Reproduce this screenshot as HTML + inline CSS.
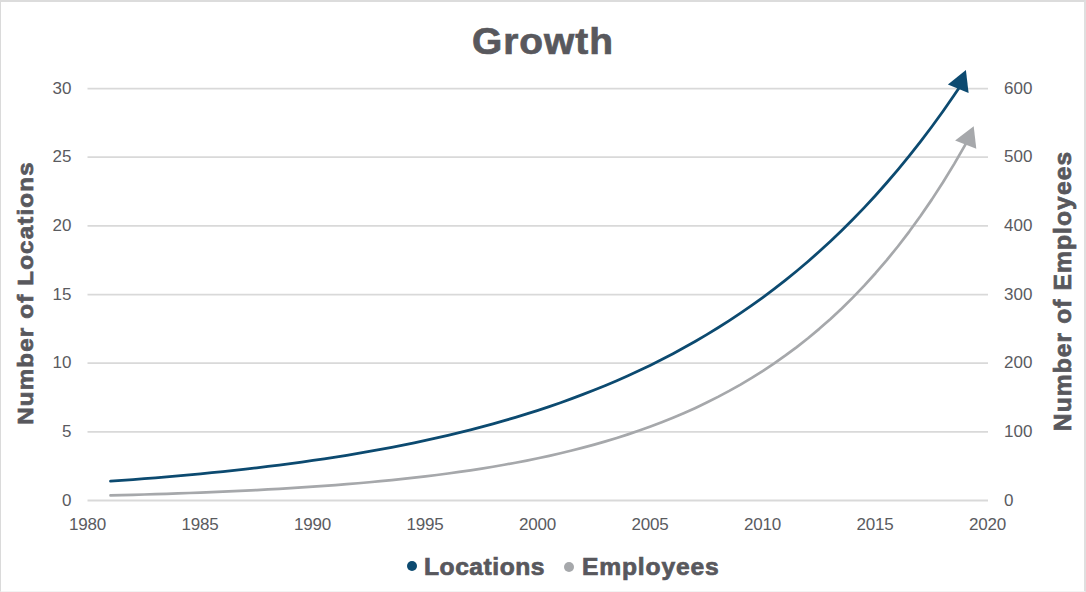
<!DOCTYPE html>
<html><head><meta charset="utf-8"><title>Growth</title>
<style>
html,body{margin:0;padding:0;background:#fff;}
body{width:1086px;height:592px;position:relative;overflow:hidden;font-family:"Liberation Sans",sans-serif;}
#frame{position:absolute;left:0;top:0;width:1086px;height:592px;box-sizing:border-box;border-style:solid;border-color:#dcdcdc #dfdfdf #f3f3f3 #dadada;border-width:2px 2px 1px 1px;}
svg{position:absolute;left:0;top:0;}
.tk{position:absolute;font-size:17px;line-height:20px;color:#5a5b5f;white-space:nowrap;}
.yl{left:20px;width:51.5px;text-align:right;}
.yr{left:1004px;text-align:left;}
.xl{top:515px;width:60px;text-align:center;letter-spacing:-0.2px;}
.b{position:absolute;font-weight:bold;color:#58585d;white-space:nowrap;-webkit-text-stroke:0.7px #58585d;}
#title{left:471.5px;top:21.6px;font-size:36px;line-height:40px;letter-spacing:0.9px;transform-origin:0 50%;transform:scaleX(1.08);}
#ayl{left:25.5px;top:293.2px;width:0;height:0;}
#ayl span{position:absolute;display:block;width:400px;left:-200px;top:-14px;height:28px;line-height:28px;text-align:center;transform:rotate(-90deg) scaleX(1.07);font-size:22.5px;letter-spacing:1.12px;}
#ayr{left:1062.5px;top:290.7px;width:0;height:0;}
#ayr span{position:absolute;display:block;width:400px;left:-200px;top:-14px;height:28px;line-height:28px;text-align:center;transform:rotate(-90deg) scaleX(1.07);font-size:23px;letter-spacing:1.01px;}
.lg{font-size:23px;line-height:28px;top:552.5px;letter-spacing:1.2px;}
.dot{position:absolute;width:10px;height:10px;border-radius:50%;}
</style></head>
<body>
<div id="frame"></div>
<svg width="1086" height="592" viewBox="0 0 1086 592">
<g stroke="#d9d9d9" stroke-width="1.8" fill="none">
<line x1="87.5" x2="988" y1="88.6" y2="88.6"/>
<line x1="87.5" x2="988" y1="157.2" y2="157.2"/>
<line x1="87.5" x2="988" y1="225.9" y2="225.9"/>
<line x1="87.5" x2="988" y1="294.6" y2="294.6"/>
<line x1="87.5" x2="988" y1="363.2" y2="363.2"/>
<line x1="87.5" x2="988" y1="431.9" y2="431.9"/>
<line x1="87.5" x2="988" y1="500.5" y2="500.5"/>
</g>
<path d="M110.50,495.41 L121.75,495.12 L133.00,494.82 L144.25,494.49 L155.50,494.15 L166.75,493.79 L178.00,493.41 L189.25,493.01 L200.50,492.58 L211.75,492.13 L223.00,491.65 L234.25,491.15 L245.50,490.61 L256.75,490.05 L268.00,489.45 L279.25,488.82 L290.50,488.15 L301.75,487.44 L313.00,486.69 L324.25,485.90 L335.50,485.06 L346.75,484.17 L358.00,483.24 L369.25,482.25 L380.50,481.20 L391.75,480.09 L403.00,478.92 L414.25,477.67 L425.50,476.36 L436.75,474.97 L448.00,473.51 L459.25,471.95 L470.50,470.31 L481.75,468.57 L493.00,466.73 L504.25,464.79 L515.50,462.73 L526.75,460.56 L538.00,458.25 L549.25,455.82 L560.50,453.25 L571.75,450.52 L583.00,447.64 L594.25,444.59 L605.50,441.37 L616.75,437.96 L628.00,434.36 L639.25,430.54 L650.50,426.51 L661.75,422.24 L673.00,417.72 L684.25,412.95 L695.50,407.90 L706.75,402.55 L718.00,396.90 L729.25,390.93 L740.50,384.60 L751.75,377.92 L763.00,370.84 L774.25,363.36 L785.50,355.44 L796.75,347.07 L808.00,338.22 L819.25,328.85 L830.50,318.94 L841.75,308.46 L853.00,297.37 L864.25,285.65 L875.50,273.24 L886.75,260.12 L898.00,246.25 L909.25,231.57 L920.50,216.04 L931.75,199.62 L943.00,182.25 L954.25,163.87 L965.50,144.43 L967.30,141.22" fill="none" stroke="#a6a8ab" stroke-width="2.7" stroke-linecap="round" stroke-linejoin="round"/>
<polygon points="973.7,126.2 955.1,140.6 976.3,148.7" fill="#a6a8ab"/>
<path d="M110.50,481.18 L121.75,480.38 L133.00,479.55 L144.25,478.69 L155.50,477.79 L166.75,476.85 L178.00,475.87 L189.25,474.85 L200.50,473.79 L211.75,472.69 L223.00,471.54 L234.25,470.34 L245.50,469.10 L256.75,467.80 L268.00,466.44 L279.25,465.04 L290.50,463.57 L301.75,462.04 L313.00,460.45 L324.25,458.79 L335.50,457.07 L346.75,455.27 L358.00,453.40 L369.25,451.45 L380.50,449.41 L391.75,447.30 L403.00,445.10 L414.25,442.80 L425.50,440.41 L436.75,437.92 L448.00,435.33 L459.25,432.63 L470.50,429.82 L481.75,426.89 L493.00,423.84 L504.25,420.67 L515.50,417.36 L526.75,413.91 L538.00,410.32 L549.25,406.59 L560.50,402.70 L571.75,398.64 L583.00,394.42 L594.25,390.02 L605.50,385.44 L616.75,380.67 L628.00,375.71 L639.25,370.53 L650.50,365.15 L661.75,359.54 L673.00,353.69 L684.25,347.60 L695.50,341.27 L706.75,334.66 L718.00,327.79 L729.25,320.63 L740.50,313.17 L751.75,305.40 L763.00,297.31 L774.25,288.88 L785.50,280.11 L796.75,270.97 L808.00,261.45 L819.25,251.54 L830.50,241.21 L841.75,230.46 L853.00,219.26 L864.25,207.60 L875.50,195.45 L886.75,182.80 L898.00,169.62 L909.25,155.90 L920.50,141.60 L931.75,126.72 L943.00,111.22 L954.25,95.07 L959.20,87.76" fill="none" stroke="#0c4a70" stroke-width="2.8" stroke-linecap="round" stroke-linejoin="round"/>
<polygon points="965.9,70.1 947.9,84.5 968.6,92.9" fill="#0c4a70"/>
</svg>
<div class="b" id="title">Growth</div>
<div class="b" id="ayl"><span>Number of Locations</span></div>
<div class="b" id="ayr"><span>Number of Employees</span></div>
<div class="tk yl" style="top:78.8px">30</div>
<div class="tk yl" style="top:147.4px">25</div>
<div class="tk yl" style="top:216.1px">20</div>
<div class="tk yl" style="top:284.8px">15</div>
<div class="tk yl" style="top:353.4px">10</div>
<div class="tk yl" style="top:422.1px">5</div>
<div class="tk yl" style="top:490.7px">0</div>
<div class="tk yr" style="top:78.8px">600</div>
<div class="tk yr" style="top:147.4px">500</div>
<div class="tk yr" style="top:216.1px">400</div>
<div class="tk yr" style="top:284.8px">300</div>
<div class="tk yr" style="top:353.4px">200</div>
<div class="tk yr" style="top:422.1px">100</div>
<div class="tk yr" style="top:490.7px">0</div>
<div class="tk xl" style="left:57.6px">1980</div>
<div class="tk xl" style="left:170.1px">1985</div>
<div class="tk xl" style="left:282.6px">1990</div>
<div class="tk xl" style="left:395.1px">1995</div>
<div class="tk xl" style="left:507.6px">2000</div>
<div class="tk xl" style="left:620.1px">2005</div>
<div class="tk xl" style="left:732.6px">2010</div>
<div class="tk xl" style="left:845.1px">2015</div>
<div class="tk xl" style="left:957.6px">2020</div>
<div class="dot" style="left:406.6px;top:561.3px;background:#0c4a70"></div>
<div class="b lg" style="left:423.6px;letter-spacing:0.5px;transform-origin:0 50%;transform:scaleX(1.07)">Locations</div>
<div class="dot" style="left:564.4px;top:562.3px;background:#a6a8ab"></div>
<div class="b lg" style="left:582.4px;letter-spacing:0.79px;transform-origin:0 50%;transform:scaleX(1.07)">Employees</div>
</body></html>
